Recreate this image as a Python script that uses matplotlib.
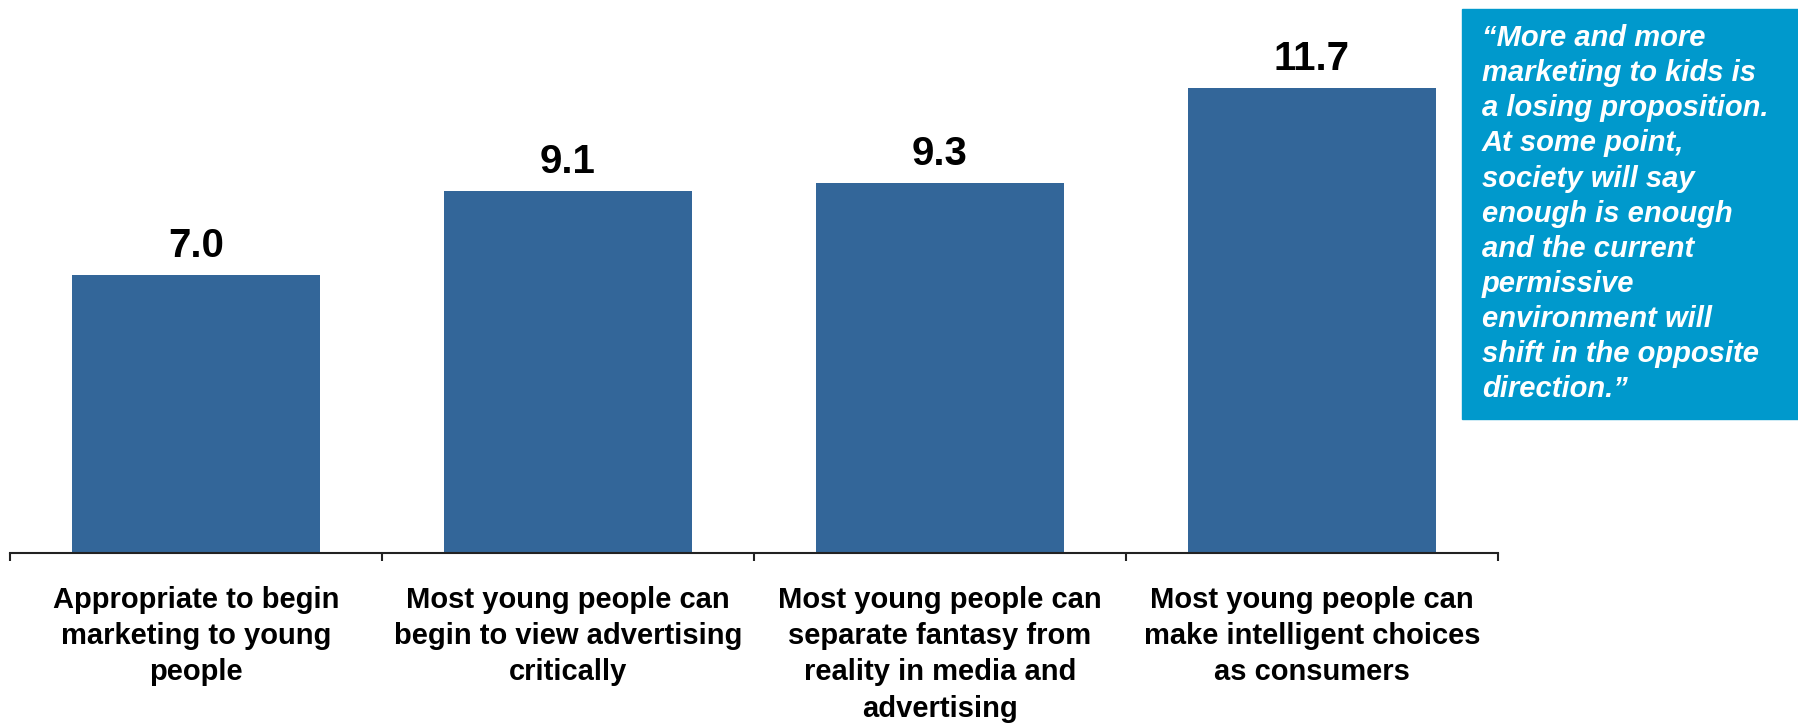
import matplotlib

matplotlib.use('Agg')
import matplotlib.pyplot as plt
from matplotlib.patches import Rectangle
import matplotlib.transforms as mtransforms

plt.rcParams['font.family'] = ['Liberation Sans', 'DejaVu Sans']

# data
categories = ['Appropriate to begin\nmarketing to young\npeople',
              'Most young people can\nbegin to view advertising\ncritically',
              'Most young people can\nseparate fantasy from\nreality in media and\nadvertising',
              'Most young people can\nmake intelligent choices\nas consumers']
values = [7.0, 9.1, 9.3, 11.7]
value_labels = ['7.0', '9.1', '9.3', '11.7']

quote = ('\u201cMore and more\nmarketing to kids is\na losing proposition.\n'
         'At some point,\nsociety will say\nenough is enough\nand the current\n'
         'permissive\nenvironment will\nshift in the opposite\ndirection.\u201d')

bar_color = '#336699'
box_color = '#0099CC'

W, H = 1798, 725
fig = plt.figure(figsize=(W / 100, H / 100), dpi=100)

# axes: baseline at y=553px, spans x 10..1498 px
ax = fig.add_axes([10 / W, 1 - 553 / H, 1488 / W, 553 / H])
ax.bar(range(len(values)), values, width=0.667, color=bar_color, zorder=2)
ax.set_xlim(-0.5, 3.5)
ax.set_ylim(0, 553 / 39.75)

for sp in ['top', 'right', 'left']:
    ax.spines[sp].set_visible(False)
ax.spines['bottom'].set_linewidth(1.5)
ax.spines['bottom'].set_color('#222222')
ax.set_yticks([])
ax.set_xticks([-0.5, 0.5, 1.5, 2.5, 3.5])
ax.set_xticklabels([])
ax.tick_params(axis='x', direction='out', length=6, width=1.5, color='#222222')

for i, (v, lab) in enumerate(zip(values, value_labels)):
    ax.annotate(lab, (i, v), xytext=(0, 13), textcoords='offset points',
                ha='center', va='baseline', fontsize=29, fontweight='bold')

trans = mtransforms.blended_transform_factory(ax.transData, ax.transAxes)
for i, cat in enumerate(categories):
    ax.annotate(cat, (i, 0), xycoords=trans, xytext=(0, -23.5), textcoords='offset points',
                ha='center', va='top', fontsize=21, fontweight='bold', linespacing=1.38,
                annotation_clip=False)

# quote box on the right
fig.patches.append(Rectangle((1462 / W, 1 - 419 / H), (W - 1462) / W, (419 - 9) / H,
                             transform=fig.transFigure, color=box_color, zorder=0))
fig.text(1482 / W, 1 - 24 / H, quote, color='white', fontsize=21,
         fontweight='bold', fontstyle='italic', ha='left', va='top', linespacing=1.325)

fig.savefig('out.png', dpi=100)
